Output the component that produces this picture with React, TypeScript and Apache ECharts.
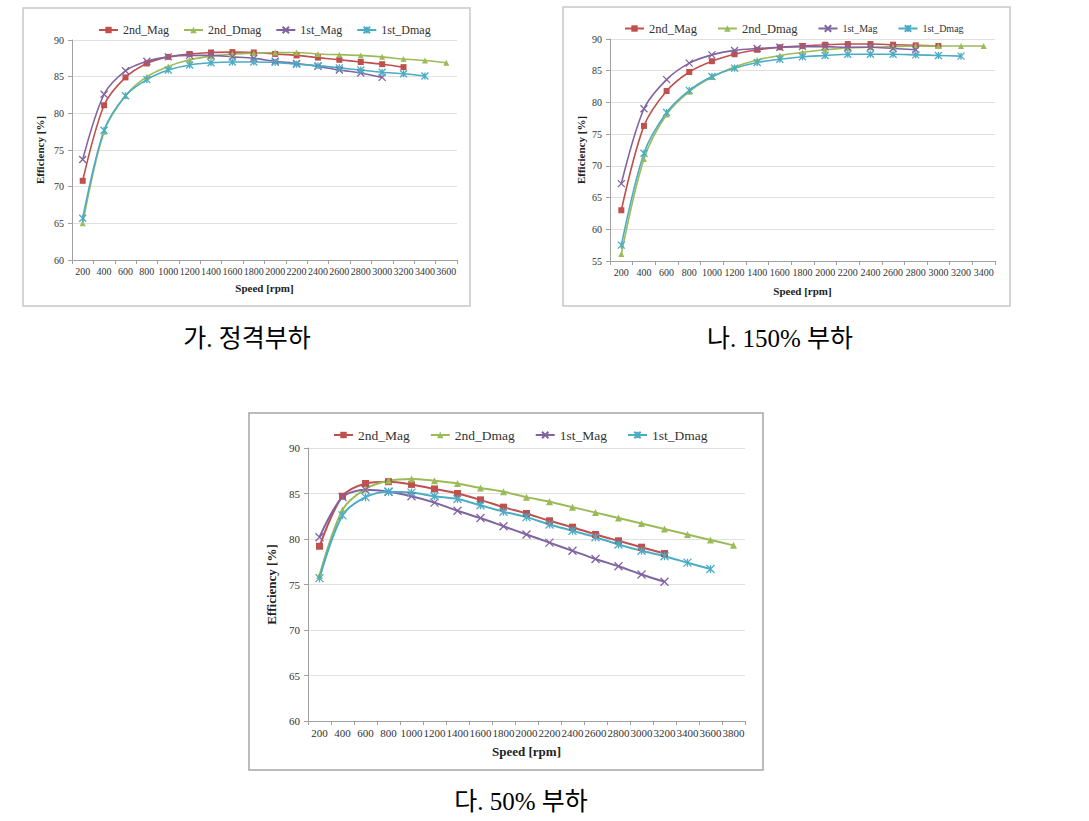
import React, { useEffect, useRef } from 'react';
import * as echarts from 'echarts';

const SERIES_NAMES = ['2nd_Mag', '2nd_Dmag', '1st_Mag', '1st_Dmag'];

// Chart 가: rated load
const speedsA = ['200','400','600','800','1000','1200','1400','1600','1800','2000','2200','2400','2600','2800','3000','3200','3400','3600'];
const a2ndMag = [70.8, 81.1, 84.9, 86.8, 87.7, 88.1, 88.3, 88.35, 88.3, 88.1, 87.9, 87.6, 87.3, 87.0, 86.7, 86.3];
const a2ndDmag = [65.0, 77.5, 82.4, 85.0, 86.4, 87.3, 87.8, 88.1, 88.2, 88.3, 88.3, 88.1, 88.0, 87.9, 87.7, 87.4, 87.2, 86.9];
const a1stMag = [73.7, 82.6, 85.8, 87.1, 87.7, 87.9, 87.9, 87.7, 87.5, 87.1, 86.8, 86.4, 85.9, 85.5, 84.9];
const a1stDmag = [65.7, 77.7, 82.4, 84.6, 85.9, 86.6, 86.9, 87.0, 87.0, 86.95, 86.7, 86.5, 86.2, 85.9, 85.6, 85.4, 85.1];

// Chart 나: 150% load
const speedsB = ['200','400','600','800','1000','1200','1400','1600','1800','2000','2200','2400','2600','2800','3000','3200','3400'];
const b2ndMag = [63.0, 76.3, 81.8, 84.8, 86.5, 87.6, 88.3, 88.7, 88.9, 89.1, 89.2, 89.2, 89.1, 89.0, 88.9];
const b2ndDmag = [56.1, 71.1, 78.1, 81.7, 84.0, 85.6, 86.7, 87.4, 87.9, 88.3, 88.6, 88.7, 88.8, 88.9, 88.9, 88.9, 88.9];
const b1stMag = [67.2, 79.0, 83.6, 86.2, 87.5, 88.2, 88.5, 88.7, 88.8, 88.8, 88.7, 88.7, 88.5, 88.3];
const b1stDmag = [57.5, 72.0, 78.4, 81.9, 84.1, 85.4, 86.3, 86.8, 87.2, 87.4, 87.6, 87.6, 87.6, 87.5, 87.4, 87.3];

// Chart 다: 50% load
const speedsC = ['200','400','600','800','1000','1200','1400','1600','1800','2000','2200','2400','2600','2800','3000','3200','3400','3600','3800'];
const c2ndMag = [79.2, 84.7, 86.1, 86.3, 86.0, 85.5, 85.0, 84.3, 83.5, 82.8, 82.0, 81.3, 80.5, 79.8, 79.1, 78.4];
const c2ndDmag = [76.0, 83.2, 85.5, 86.4, 86.6, 86.4, 86.1, 85.6, 85.2, 84.6, 84.1, 83.5, 82.9, 82.3, 81.7, 81.1, 80.5, 79.9, 79.3];
const c1stMag = [80.2, 84.6, 85.4, 85.2, 84.7, 84.0, 83.1, 82.3, 81.4, 80.5, 79.6, 78.7, 77.8, 77.0, 76.1, 75.3];
const c1stDmag = [75.7, 82.6, 84.6, 85.2, 85.1, 84.7, 84.4, 83.7, 83.0, 82.4, 81.6, 80.9, 80.2, 79.4, 78.7, 78.1, 77.4, 76.7];

const captions = ['가. 정격부하', '나. 150% 부하', '다. 50% 부하'];

const COLORS = ['#c0504d', '#9bbb59', '#8064a2', '#4bacc6'];
const SYMBOLS = ['rect', 'triangle', 'path://M0,0L10,10M10,0L0,10', 'path://M0,0L10,10M10,0L0,10M5,0L5,10'];
const SERIF = '"Liberation Serif", "DejaVu Serif", serif';
const KR = '"Liberation Serif", "Noto Sans CJK KR", serif';

export default function App() {
  const ref = useRef<HTMLDivElement>(null);
  useEffect(() => {
    if (!ref.current) return;
    const chart = echarts.init(ref.current, undefined, { renderer: 'svg' });

    const panels = [
      { cats: speedsA, data: [a2ndMag, a2ndDmag, a1stMag, a1stDmag], min: 60,
        grid: { left: 72, right: 632, top: 40, bottom: 561 }, legend: { left: 93, top: 19 },
        fs: 10, lfs: [12, 12, 12, 12], gap: 14, sym: 6, lw: 1.6, yGap: 27, xGap: 22, nameFs: 11, box: [23, 8, 447, 298] },
      { cats: speedsB, data: [b2ndMag, b2ndDmag, b1stMag, b1stDmag], min: 55,
        grid: { left: 610, right: 94, top: 39, bottom: 560 }, legend: { left: 619, top: 17 },
        fs: 10, lfs: [12.5, 12.5, 10, 10], gap: 20, sym: 6, lw: 1.6, yGap: 24, xGap: 24, nameFs: 11, box: [563, 7, 447, 299] },
      { cats: speedsC, data: [c2ndMag, c2ndDmag, c1stMag, c1stDmag], min: 60,
        grid: { left: 308, right: 344, top: 448, bottom: 100 }, legend: { left: 328, top: 423 },
        fs: 11, lfs: [13.5, 13.5, 13.5, 13.5], gap: 20, sym: 7, lw: 2, yGap: 30, xGap: 24, nameFs: 13, box: [249, 413, 514, 357] },
    ];

    const grid: any[] = [];
    const xAxis: any[] = [];
    const yAxis: any[] = [];
    const legend: any[] = [];
    const series: any[] = [];
    const graphic: any[] = [];

    panels.forEach((p, gi) => {
      graphic.push({
        type: 'rect', z: -1, shape: { x: p.box[0], y: p.box[1], width: p.box[2], height: p.box[3] },
        style: { fill: '#fff', stroke: gi === 2 ? '#a6a6a6' : '#c8c8c8', lineWidth: 1.5 },
      });
      grid.push(p.grid);
      xAxis.push({
        type: 'category', gridIndex: gi, data: p.cats, boundaryGap: true,
        name: 'Speed [rpm]', nameLocation: 'middle', nameGap: p.xGap,
        nameTextStyle: { fontFamily: SERIF, fontWeight: 'bold', fontSize: p.nameFs, color: '#222' },
        axisLine: { lineStyle: { color: '#a0a0a0' } },
        axisTick: { show: true, length: 4, lineStyle: { color: '#a0a0a0' } },
        axisLabel: { interval: 0, fontFamily: SERIF, fontSize: p.fs, color: '#333', margin: 6 },
        splitLine: { show: false },
      });
      yAxis.push({
        type: 'value', gridIndex: gi, min: p.min, max: 90, interval: 5,
        name: 'Efficiency [%]', nameLocation: 'middle', nameGap: p.yGap, nameRotate: 90,
        nameTextStyle: { fontFamily: SERIF, fontWeight: 'bold', fontSize: p.nameFs, color: '#222' },
        axisLine: { show: true, lineStyle: { color: '#a0a0a0' } },
        axisTick: { show: true, length: 4, lineStyle: { color: '#a0a0a0' } },
        axisLabel: { fontFamily: SERIF, fontSize: p.fs, color: '#333', margin: 8 },
        splitLine: { show: true, lineStyle: { color: '#e0e0e0' } },
      });
      legend.push({
        left: p.legend.left, top: p.legend.top, itemGap: p.gap, itemWidth: 19, itemHeight: 8,
        data: SERIES_NAMES.map((n, i) => ({ name: n, textStyle: { fontSize: p.lfs[i] } })),
        textStyle: { fontFamily: SERIF, fontSize: p.lfs[0], color: '#333' },
      });
      SERIES_NAMES.forEach((name, si) => {
        series.push({
          name, type: 'line', xAxisIndex: gi, yAxisIndex: gi, data: p.data[si],
          smooth: 0.3, symbol: SYMBOLS[si], symbolSize: si >= 2 ? p.sym + 1 : p.sym,
          showSymbol: true,
          lineStyle: { color: COLORS[si], width: p.lw },
          itemStyle: { color: COLORS[si], borderColor: COLORS[si], borderWidth: si >= 2 ? 1.3 : 0 },
        });
      });
    });

    const capFont = `25px ${KR}`;
    graphic.push(
      { type: 'text', x: 247, y: 338, style: { text: captions[0], font: capFont, fill: '#000', align: 'center', verticalAlign: 'middle' } },
      { type: 'text', x: 780, y: 338, style: { text: captions[1], font: capFont, fill: '#000', align: 'center', verticalAlign: 'middle' } },
      { type: 'text', x: 521, y: 801, style: { text: captions[2], font: capFont, fill: '#000', align: 'center', verticalAlign: 'middle' } },
    );

    chart.setOption({
      animation: false,
      backgroundColor: '#fff',
      grid, xAxis, yAxis, legend, series, graphic,
    });
    return () => chart.dispose();
  }, []);
  return <div ref={ref} style={{ position: 'absolute', left: 0, top: 0, width: 1089, height: 821 }} />;
}
